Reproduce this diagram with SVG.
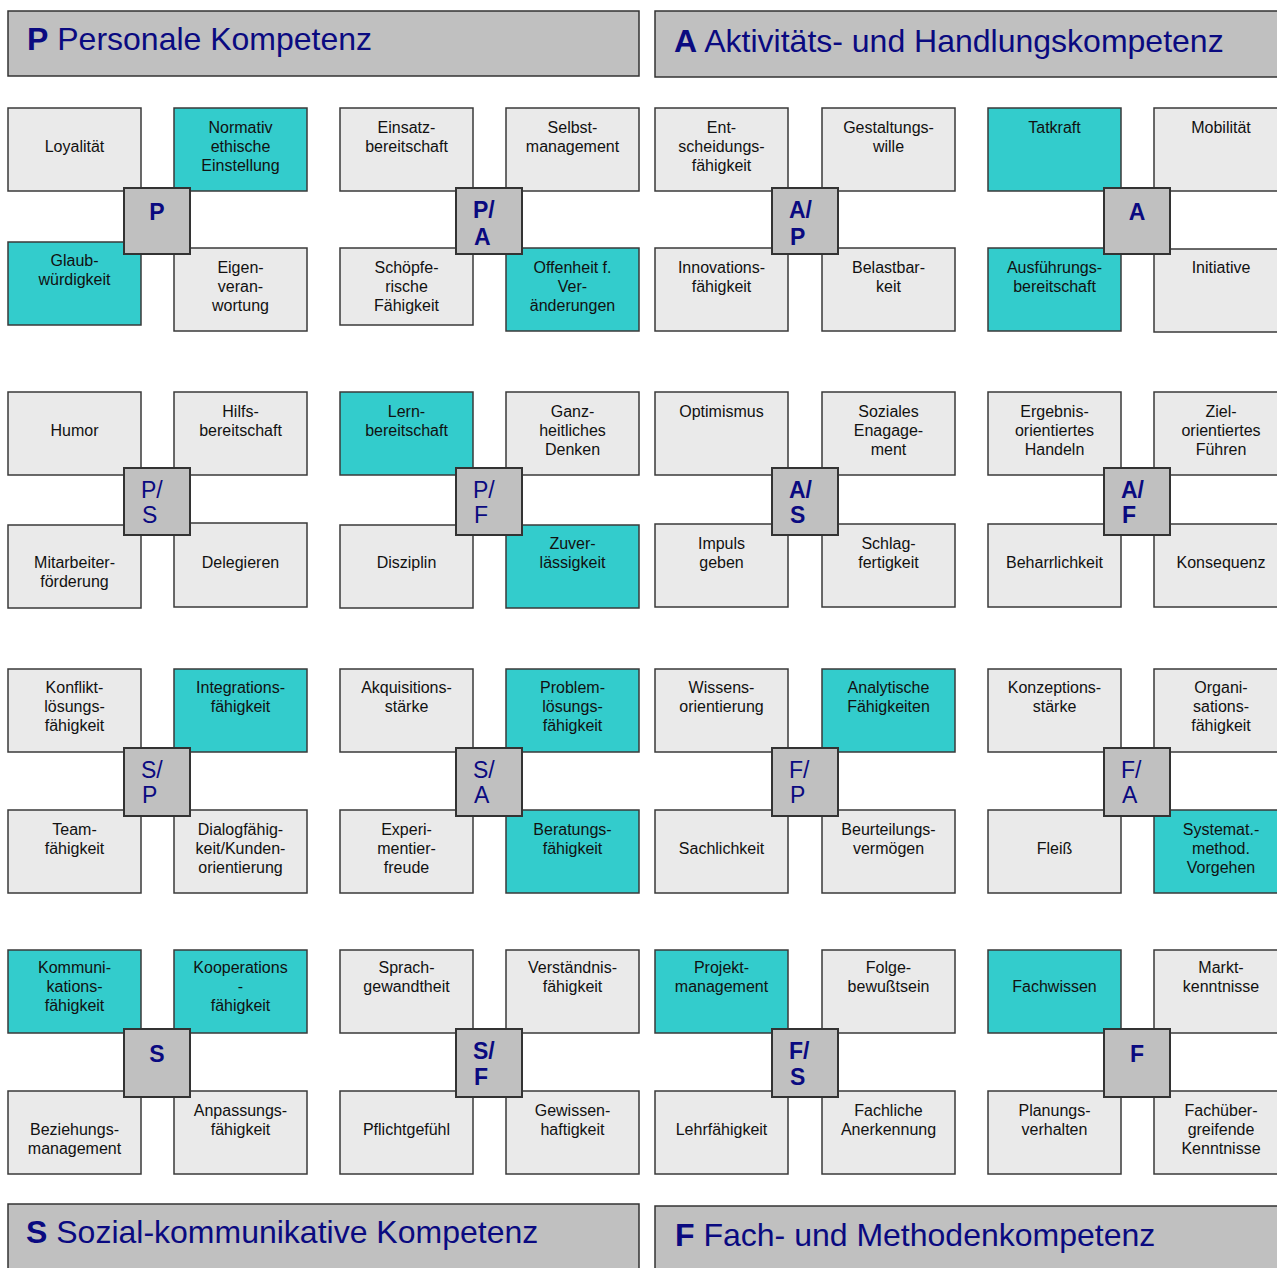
<svg xmlns="http://www.w3.org/2000/svg" width="1277" height="1268" viewBox="0 0 1277 1268">
<style>
.hdr{fill:#c0c0c0;stroke:#333;stroke-width:1.5}
.g{fill:#eaeaea;stroke:#3a3a3a;stroke-width:1.5}
.t{fill:#33cccc;stroke:#3a3a3a;stroke-width:1.5}
.c{fill:#c0c0c0;stroke:#333;stroke-width:2}
.bt{font-family:"Liberation Sans",Arial,sans-serif;font-size:16px;fill:#111;text-anchor:middle}
.ht{font-family:"Liberation Sans",Arial,sans-serif;font-size:32px;fill:#0a0a80}
.cl{font-family:"Liberation Sans",Arial,sans-serif;font-size:23px;fill:#0a0a80;font-weight:bold}
.cr{font-family:"Liberation Sans",Arial,sans-serif;font-size:23px;fill:#0a0a80}
.mid{text-anchor:middle}
</style>
<rect width="1277" height="1268" fill="#ffffff"/>

<g id="hdr-P"><rect class="hdr" x="8" y="11" width="631" height="65"/><text class="ht" x="27" y="50"><tspan font-weight="bold">P</tspan> Personale Kompetenz</text></g>
<g id="hdr-A"><rect class="hdr" x="655" y="11" width="640" height="66"/><text class="ht" x="674" y="52"><tspan font-weight="bold">A</tspan> Aktivitäts- und Handlungskompetenz</text></g>
<g id="hdr-S"><rect class="hdr" x="8" y="1204" width="631" height="70"/><text class="ht" x="26" y="1243"><tspan font-weight="bold">S</tspan> Sozial-kommunikative Kompetenz</text></g>
<g id="hdr-F"><rect class="hdr" x="655" y="1206" width="640" height="70"/><text class="ht" x="675" y="1246"><tspan font-weight="bold">F</tspan> Fach- und Methodenkompetenz</text></g>

<!-- Row 1 -->
<g id="loyalitaet"><rect class="g" x="8" y="108" width="133" height="83"/><text class="bt" x="74.5" y="152">Loyalität</text></g>
<g id="normativ"><rect class="t" x="174" y="108" width="133" height="83"/><text class="bt" x="240.5" y="133">Normativ<tspan x="240.5" dy="19">ethische</tspan><tspan x="240.5" dy="19">Einstellung</tspan></text></g>
<g id="glaubwuerdigkeit"><rect class="t" x="8" y="242" width="133" height="83"/><text class="bt" x="74.5" y="266">Glaub-<tspan x="74.5" dy="19">würdigkeit</tspan></text></g>
<g id="eigenverantwortung"><rect class="g" x="174" y="248" width="133" height="83"/><text class="bt" x="240.5" y="273">Eigen-<tspan x="240.5" dy="19">veran-</tspan><tspan x="240.5" dy="19">wortung</tspan></text></g>
<g id="c-P"><rect class="c" x="124" y="188" width="66" height="66"/><text class="cl mid" x="157" y="220">P</text></g>

<g id="einsatz"><rect class="g" x="340" y="108" width="133" height="83"/><text class="bt" x="406.5" y="133">Einsatz-<tspan x="406.5" dy="19">bereitschaft</tspan></text></g>
<g id="selbst"><rect class="g" x="506" y="108" width="133" height="83"/><text class="bt" x="572.5" y="133">Selbst-<tspan x="572.5" dy="19">management</tspan></text></g>
<g id="schoepfe"><rect class="g" x="340" y="248" width="133" height="77"/><text class="bt" x="406.5" y="273">Schöpfe-<tspan x="406.5" dy="19">rische</tspan><tspan x="406.5" dy="19">Fähigkeit</tspan></text></g>
<g id="offenheit"><rect class="t" x="506" y="248" width="133" height="83"/><text class="bt" x="572.5" y="273">Offenheit f.<tspan x="572.5" dy="19">Ver-</tspan><tspan x="572.5" dy="19">änderungen</tspan></text></g>
<g id="c-PA"><rect class="c" x="456" y="188" width="66" height="66"/><text class="cl" x="473" y="218">P/<tspan x="474" dy="27">A</tspan></text></g>

<g id="entscheidung"><rect class="g" x="655" y="108" width="133" height="83"/><text class="bt" x="721.5" y="133">Ent-<tspan x="721.5" dy="19">scheidungs-</tspan><tspan x="721.5" dy="19">fähigkeit</tspan></text></g>
<g id="gestaltung"><rect class="g" x="822" y="108" width="133" height="83"/><text class="bt" x="888.5" y="133">Gestaltungs-<tspan x="888.5" dy="19">wille</tspan></text></g>
<g id="innovation"><rect class="g" x="655" y="248" width="133" height="83"/><text class="bt" x="721.5" y="273">Innovations-<tspan x="721.5" dy="19">fähigkeit</tspan></text></g>
<g id="belastbarkeit"><rect class="g" x="822" y="248" width="133" height="83"/><text class="bt" x="888.5" y="273">Belastbar-<tspan x="888.5" dy="19">keit</tspan></text></g>
<g id="c-AP"><rect class="c" x="772" y="188" width="66" height="66"/><text class="cl" x="789" y="218">A/<tspan x="790" dy="27">P</tspan></text></g>

<g id="tatkraft"><rect class="t" x="988" y="108" width="133" height="83"/><text class="bt" x="1054.5" y="133">Tatkraft</text></g>
<g id="mobilitaet"><rect class="g" x="1154" y="108" width="140" height="83"/><text class="bt" x="1221" y="133">Mobilität</text></g>
<g id="ausfuehrung"><rect class="t" x="988" y="248" width="133" height="83"/><text class="bt" x="1054.5" y="273">Ausführungs-<tspan x="1054.5" dy="19">bereitschaft</tspan></text></g>
<g id="initiative"><rect class="g" x="1154" y="249" width="140" height="83"/><text class="bt" x="1221" y="273">Initiative</text></g>
<g id="c-A"><rect class="c" x="1104" y="188" width="66" height="66"/><text class="cl mid" x="1137" y="220">A</text></g>

<!-- Row 2 -->
<g id="humor"><rect class="g" x="8" y="392" width="133" height="83"/><text class="bt" x="74.5" y="436">Humor</text></g>
<g id="hilfs"><rect class="g" x="174" y="392" width="133" height="83"/><text class="bt" x="240.5" y="417">Hilfs-<tspan x="240.5" dy="19">bereitschaft</tspan></text></g>
<g id="mitarbeiter"><rect class="g" x="8" y="525" width="133" height="83"/><text class="bt" x="74.5" y="568">Mitarbeiter-<tspan x="74.5" dy="19">förderung</tspan></text></g>
<g id="delegieren"><rect class="g" x="174" y="523" width="133" height="84"/><text class="bt" x="240.5" y="568">Delegieren</text></g>
<g id="c-PS"><rect class="c" x="124" y="468" width="66" height="67"/><text class="cr" x="141" y="498">P/<tspan x="142" dy="25">S</tspan></text></g>

<g id="lern"><rect class="t" x="340" y="392" width="133" height="83"/><text class="bt" x="406.5" y="417">Lern-<tspan x="406.5" dy="19">bereitschaft</tspan></text></g>
<g id="ganz"><rect class="g" x="506" y="392" width="133" height="83"/><text class="bt" x="572.5" y="417">Ganz-<tspan x="572.5" dy="19">heitliches</tspan><tspan x="572.5" dy="19">Denken</tspan></text></g>
<g id="disziplin"><rect class="g" x="340" y="525" width="133" height="83"/><text class="bt" x="406.5" y="568">Disziplin</text></g>
<g id="zuverlaessigkeit"><rect class="t" x="506" y="525" width="133" height="83"/><text class="bt" x="572.5" y="549">Zuver-<tspan x="572.5" dy="19">lässigkeit</tspan></text></g>
<g id="c-PF"><rect class="c" x="456" y="468" width="66" height="67"/><text class="cr" x="473" y="498">P/<tspan x="474" dy="25">F</tspan></text></g>

<g id="optimismus"><rect class="g" x="655" y="392" width="133" height="83"/><text class="bt" x="721.5" y="417">Optimismus</text></g>
<g id="soziales"><rect class="g" x="822" y="392" width="133" height="83"/><text class="bt" x="888.5" y="417">Soziales<tspan x="888.5" dy="19">Enagage-</tspan><tspan x="888.5" dy="19">ment</tspan></text></g>
<g id="impuls"><rect class="g" x="655" y="524" width="133" height="83"/><text class="bt" x="721.5" y="549">Impuls<tspan x="721.5" dy="19">geben</tspan></text></g>
<g id="schlag"><rect class="g" x="822" y="524" width="133" height="83"/><text class="bt" x="888.5" y="549">Schlag-<tspan x="888.5" dy="19">fertigkeit</tspan></text></g>
<g id="c-AS"><rect class="c" x="772" y="468" width="66" height="67"/><text class="cl" x="789" y="498">A/<tspan x="790" dy="25">S</tspan></text></g>

<g id="ergebnis"><rect class="g" x="988" y="392" width="133" height="83"/><text class="bt" x="1054.5" y="417">Ergebnis-<tspan x="1054.5" dy="19">orientiertes</tspan><tspan x="1054.5" dy="19">Handeln</tspan></text></g>
<g id="ziel"><rect class="g" x="1154" y="392" width="140" height="83"/><text class="bt" x="1221" y="417">Ziel-<tspan x="1221" dy="19">orientiertes</tspan><tspan x="1221" dy="19">Führen</tspan></text></g>
<g id="beharrlichkeit"><rect class="g" x="988" y="524" width="133" height="83"/><text class="bt" x="1054.5" y="568">Beharrlichkeit</text></g>
<g id="konsequenz"><rect class="g" x="1154" y="524" width="140" height="83"/><text class="bt" x="1221" y="568">Konsequenz</text></g>
<g id="c-AF"><rect class="c" x="1104" y="468" width="66" height="67"/><text class="cl" x="1121" y="498">A/<tspan x="1122" dy="25">F</tspan></text></g>

<!-- Row 3 -->
<g id="konflikt"><rect class="g" x="8" y="669" width="133" height="83"/><text class="bt" x="74.5" y="693">Konflikt-<tspan x="74.5" dy="19">lösungs-</tspan><tspan x="74.5" dy="19">fähigkeit</tspan></text></g>
<g id="integration"><rect class="t" x="174" y="669" width="133" height="83"/><text class="bt" x="240.5" y="693">Integrations-<tspan x="240.5" dy="19">fähigkeit</tspan></text></g>
<g id="team"><rect class="g" x="8" y="810" width="133" height="83"/><text class="bt" x="74.5" y="835">Team-<tspan x="74.5" dy="19">fähigkeit</tspan></text></g>
<g id="dialog"><rect class="g" x="174" y="810" width="133" height="83"/><text class="bt" x="240.5" y="835">Dialogfähig-<tspan x="240.5" dy="19">keit/Kunden-</tspan><tspan x="240.5" dy="19">orientierung</tspan></text></g>
<g id="c-SP"><rect class="c" x="124" y="748" width="66" height="68"/><text class="cr" x="141" y="778">S/<tspan x="142" dy="25">P</tspan></text></g>

<g id="akquisition"><rect class="g" x="340" y="669" width="133" height="83"/><text class="bt" x="406.5" y="693">Akquisitions-<tspan x="406.5" dy="19">stärke</tspan></text></g>
<g id="problem"><rect class="t" x="506" y="669" width="133" height="83"/><text class="bt" x="572.5" y="693">Problem-<tspan x="572.5" dy="19">lösungs-</tspan><tspan x="572.5" dy="19">fähigkeit</tspan></text></g>
<g id="experiment"><rect class="g" x="340" y="810" width="133" height="83"/><text class="bt" x="406.5" y="835">Experi-<tspan x="406.5" dy="19">mentier-</tspan><tspan x="406.5" dy="19">freude</tspan></text></g>
<g id="beratung"><rect class="t" x="506" y="810" width="133" height="83"/><text class="bt" x="572.5" y="835">Beratungs-<tspan x="572.5" dy="19">fähigkeit</tspan></text></g>
<g id="c-SA"><rect class="c" x="456" y="748" width="66" height="68"/><text class="cr" x="473" y="778">S/<tspan x="474" dy="25">A</tspan></text></g>

<g id="wissen"><rect class="g" x="655" y="669" width="133" height="83"/><text class="bt" x="721.5" y="693">Wissens-<tspan x="721.5" dy="19">orientierung</tspan></text></g>
<g id="analytisch"><rect class="t" x="822" y="669" width="133" height="83"/><text class="bt" x="888.5" y="693">Analytische<tspan x="888.5" dy="19">Fähigkeiten</tspan></text></g>
<g id="sachlichkeit"><rect class="g" x="655" y="810" width="133" height="83"/><text class="bt" x="721.5" y="854">Sachlichkeit</text></g>
<g id="beurteilung"><rect class="g" x="822" y="810" width="133" height="83"/><text class="bt" x="888.5" y="835">Beurteilungs-<tspan x="888.5" dy="19">vermögen</tspan></text></g>
<g id="c-FP"><rect class="c" x="772" y="748" width="66" height="68"/><text class="cr" x="789" y="778">F/<tspan x="790" dy="25">P</tspan></text></g>

<g id="konzeption"><rect class="g" x="988" y="669" width="133" height="83"/><text class="bt" x="1054.5" y="693">Konzeptions-<tspan x="1054.5" dy="19">stärke</tspan></text></g>
<g id="organisation"><rect class="g" x="1154" y="669" width="140" height="83"/><text class="bt" x="1221" y="693">Organi-<tspan x="1221" dy="19">sations-</tspan><tspan x="1221" dy="19">fähigkeit</tspan></text></g>
<g id="fleiss"><rect class="g" x="988" y="810" width="133" height="83"/><text class="bt" x="1054.5" y="854">Fleiß</text></g>
<g id="systemat"><rect class="t" x="1154" y="810" width="140" height="83"/><text class="bt" x="1221" y="835">Systemat.-<tspan x="1221" dy="19">method.</tspan><tspan x="1221" dy="19">Vorgehen</tspan></text></g>
<g id="c-FA"><rect class="c" x="1104" y="748" width="66" height="68"/><text class="cr" x="1121" y="778">F/<tspan x="1122" dy="25">A</tspan></text></g>

<!-- Row 4 -->
<g id="kommunikation"><rect class="t" x="8" y="950" width="133" height="83"/><text class="bt" x="74.5" y="973">Kommuni-<tspan x="74.5" dy="19">kations-</tspan><tspan x="74.5" dy="19">fähigkeit</tspan></text></g>
<g id="kooperation"><rect class="t" x="174" y="950" width="133" height="83"/><text class="bt" x="240.5" y="973">Kooperations<tspan x="240.5" dy="19">-</tspan><tspan x="240.5" dy="19">fähigkeit</tspan></text></g>
<g id="beziehung"><rect class="g" x="8" y="1091" width="133" height="83"/><text class="bt" x="74.5" y="1135">Beziehungs-<tspan x="74.5" dy="19">management</tspan></text></g>
<g id="anpassung"><rect class="g" x="174" y="1091" width="133" height="83"/><text class="bt" x="240.5" y="1116">Anpassungs-<tspan x="240.5" dy="19">fähigkeit</tspan></text></g>
<g id="c-S"><rect class="c" x="124" y="1029" width="66" height="68"/><text class="cl mid" x="157" y="1062">S</text></g>

<g id="sprach"><rect class="g" x="340" y="950" width="133" height="83"/><text class="bt" x="406.5" y="973">Sprach-<tspan x="406.5" dy="19">gewandtheit</tspan></text></g>
<g id="verstaendnis"><rect class="g" x="506" y="950" width="133" height="83"/><text class="bt" x="572.5" y="973">Verständnis-<tspan x="572.5" dy="19">fähigkeit</tspan></text></g>
<g id="pflicht"><rect class="g" x="340" y="1091" width="133" height="83"/><text class="bt" x="406.5" y="1135">Pflichtgefühl</text></g>
<g id="gewissen"><rect class="g" x="506" y="1091" width="133" height="83"/><text class="bt" x="572.5" y="1116">Gewissen-<tspan x="572.5" dy="19">haftigkeit</tspan></text></g>
<g id="c-SF"><rect class="c" x="456" y="1029" width="66" height="68"/><text class="cl" x="473" y="1059">S/<tspan x="474" dy="26">F</tspan></text></g>

<g id="projekt"><rect class="t" x="655" y="950" width="133" height="83"/><text class="bt" x="721.5" y="973">Projekt-<tspan x="721.5" dy="19">management</tspan></text></g>
<g id="folge"><rect class="g" x="822" y="950" width="133" height="83"/><text class="bt" x="888.5" y="973">Folge-<tspan x="888.5" dy="19">bewußtsein</tspan></text></g>
<g id="lehr"><rect class="g" x="655" y="1091" width="133" height="83"/><text class="bt" x="721.5" y="1135">Lehrfähigkeit</text></g>
<g id="fachlich"><rect class="g" x="822" y="1091" width="133" height="83"/><text class="bt" x="888.5" y="1116">Fachliche<tspan x="888.5" dy="19">Anerkennung</tspan></text></g>
<g id="c-FS"><rect class="c" x="772" y="1029" width="66" height="68"/><text class="cl" x="789" y="1059">F/<tspan x="790" dy="26">S</tspan></text></g>

<g id="fachwissen"><rect class="t" x="988" y="950" width="133" height="83"/><text class="bt" x="1054.5" y="992">Fachwissen</text></g>
<g id="markt"><rect class="g" x="1154" y="950" width="140" height="83"/><text class="bt" x="1221" y="973">Markt-<tspan x="1221" dy="19">kenntnisse</tspan></text></g>
<g id="planung"><rect class="g" x="988" y="1091" width="133" height="83"/><text class="bt" x="1054.5" y="1116">Planungs-<tspan x="1054.5" dy="19">verhalten</tspan></text></g>
<g id="fachueber"><rect class="g" x="1154" y="1091" width="140" height="83"/><text class="bt" x="1221" y="1116">Fachüber-<tspan x="1221" dy="19">greifende</tspan><tspan x="1221" dy="19">Kenntnisse</tspan></text></g>
<g id="c-F"><rect class="c" x="1104" y="1029" width="66" height="68"/><text class="cl mid" x="1137" y="1062">F</text></g>
</svg>
